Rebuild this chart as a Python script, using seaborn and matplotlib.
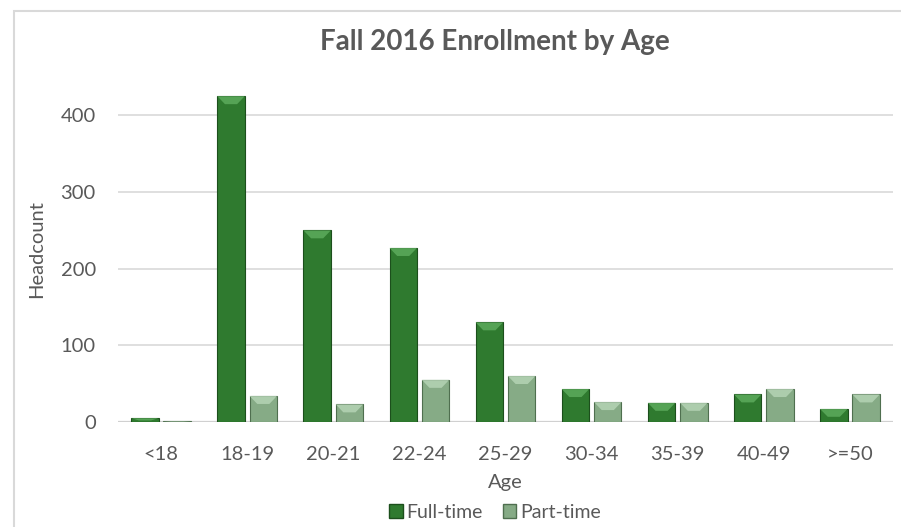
import seaborn as sns
import pandas as pd
import matplotlib
import matplotlib.pyplot as plt
import matplotlib.patches as patches

matplotlib.use('Agg')

AGE_GROUPS = ['<18', '18-19', '20-21', '22-24', '25-29', '30-34', '35-39', '40-49', '>=50']
FULL_TIME = [5, 425, 250, 227, 130, 43, 25, 36, 17]
PART_TIME = [1, 34, 23, 55, 60, 26, 25, 43, 36]
SERIES = ['Full-time', 'Part-time']
COLORS = ['#2f7a2f', '#86ab86']
EDGES = ['#1c4f1c', '#4f6f4f']
BEVEL = ['#5fae5f', '#b8d6b8']

TEXT_GREY = '#595959'

df = pd.DataFrame({
    'Age': AGE_GROUPS * 2,
    'Headcount': FULL_TIME + PART_TIME,
    'Status': [SERIES[0]] * len(AGE_GROUPS) + [SERIES[1]] * len(AGE_GROUPS),
})

sns.set_theme(rc={'figure.figsize': (9.01, 5.27)})
sns.set_style('white')
plt.rcParams['font.family'] = ['Lato', 'DejaVu Sans']

fig = plt.figure(dpi=100)
ax = fig.add_axes([118 / 901, 1 - 422 / 527, (893 - 118) / 901, (422 - 77) / 527])

sns.barplot(data=df, x='Age', y='Headcount', hue='Status', order=AGE_GROUPS,
            hue_order=SERIES, palette=COLORS, width=0.75, gap=0.15,
            saturation=1, ax=ax, legend=False, zorder=3)

ax.set_ylim(0, 450)

# darker outline plus a light bevel along the top of each bar
px_per_unit = ax.transData.transform((0, 1))[1] - ax.transData.transform((0, 0))[1]
for container, edge, bev in zip(ax.containers, EDGES, BEVEL):
    for bar in container:
        bar.set_edgecolor(edge)
        bar.set_linewidth(0.8)
        x0, w, h = bar.get_x(), bar.get_width(), bar.get_height()
        depth = min(8 / px_per_unit, h * 0.6)
        inset = w * 0.28
        ax.add_patch(patches.Polygon(
            [(x0, h), (x0 + w, h), (x0 + w - inset, h - depth), (x0 + inset, h - depth)],
            closed=True, facecolor=bev, edgecolor='none', alpha=0.8, zorder=4))

ax.set_yticks([0, 100, 200, 300, 400])
ax.yaxis.grid(True, color='#d9d9d9', linewidth=1.2, zorder=0)
ax.xaxis.grid(False)
for side in ['top', 'right', 'left', 'bottom']:
    ax.spines[side].set_visible(False)
ax.axhline(0, color='#d0d0d0', linewidth=1.6, zorder=2)

ax.tick_params(axis='y', colors=TEXT_GREY, labelsize=14.5, length=0, pad=16)
ax.tick_params(axis='x', colors=TEXT_GREY, labelsize=14.5, length=0, pad=17)
ax.set_xlabel('Age', fontsize=14.5, color=TEXT_GREY, labelpad=8)
ax.set_ylabel('Headcount', fontsize=14.5, color=TEXT_GREY, labelpad=11)

fig.text(495 / 901, 1 - 42 / 527, 'Fall 2016 Enrollment by Age', ha='center', va='center',
         fontsize=20, fontweight='bold', color=TEXT_GREY)

handles = [patches.Patch(facecolor=c, edgecolor=e, label=s) for c, e, s in zip(COLORS, EDGES, SERIES)]
fig.legend(handles=handles, loc='center', bbox_to_anchor=(495 / 901, 1 - 512 / 527), ncol=2,
           frameon=False, fontsize=14, labelcolor=TEXT_GREY, handlelength=0.7, handleheight=0.7,
           handletextpad=0.2, columnspacing=1.0, borderaxespad=0)

# light chart-area border
fig.add_artist(patches.Rectangle((14 / 901, -0.05), 1.1, 1 - 11 / 527 + 0.05,
                                 transform=fig.transFigure, fill=False,
                                 edgecolor='#d9d9d9', linewidth=1.5))

fig.savefig('out.png', dpi=100)
plt.close()
